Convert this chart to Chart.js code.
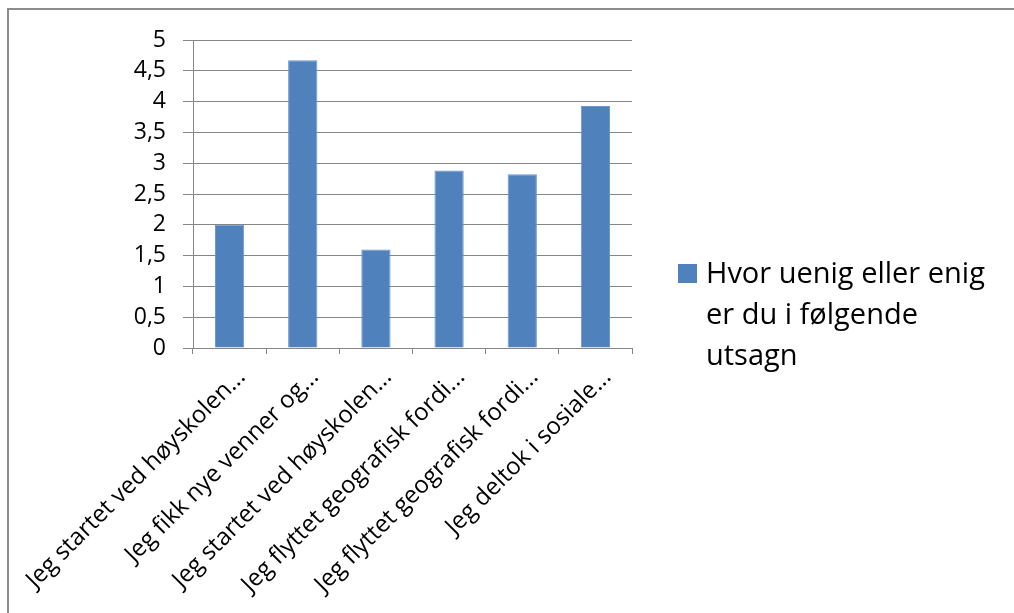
<!DOCTYPE html>
<html>
<head>
<meta charset="utf-8">
<script src="https://cdn.jsdelivr.net/npm/chart.js@4"></script>
<style>
  html, body { margin: 0; padding: 0; background: #fff; }
  #wrap { position: relative; width: 1014px; height: 613px; overflow: hidden; }
  #frame { position: absolute; left: 7px; top: 8px; width: 1100px; height: 700px; border: 2px solid #8c8c8c; box-sizing: border-box; }
  #myChart { position: absolute; left: 0; top: 0; }
  #legend { position: absolute; left: 678px; top: 251px; width: 334px; font-family: "Open Sans", sans-serif; font-size: 29px; line-height: 41px; color: #000; }
  #legend .box { position: absolute; left: 0; top: 13px; width: 19px; height: 19px; background: #4f81bd; }
  #legend .txt { margin-left: 28px; white-space: nowrap; }
</style>
</head>
<body>
<div id="wrap">
  <div id="frame"></div>
  <canvas id="myChart" width="1014" height="613"></canvas>
  <div id="legend"><span class="box"></span><div class="txt" id="legendText"></div></div>
</div>
<script>
var categories = [
    'Jeg startet ved høyskolen...',
    'Jeg fikk nye venner og...',
    'Jeg startet ved høyskolen...',
    'Jeg flyttet geografisk fordi...',
    'Jeg flyttet geografisk fordi...',
    'Jeg deltok i sosiale...'
];
var seriesName = 'Hvor uenig eller enig er du i følgende utsagn';
var values = [2, 4.67, 1.6, 2.88, 2.82, 3.93];
var yTicks = [0, 0.5, 1, 1.5, 2, 2.5, 3, 3.5, 4, 4.5, 5];

var gridColor = '#868686';
var fontFamily = '"Open Sans", sans-serif';

// legend wraps like the original, in three lines
document.getElementById('legendText').innerHTML = 'Hvor uenig eller enig<br>er du i følgende<br>utsagn';

var data = {
    labels: categories,
    datasets: [{
        label: seriesName,
        data: values,
        backgroundColor: '#4f81bd',
        borderColor: '#6a95c9',
        borderWidth: 1,
        barPercentage: 0.8,
        categoryPercentage: 0.5
    }]
};

const config = {
    type: 'bar',
    data,
    options: {
        responsive: false,
        animation: false,
        devicePixelRatio: 1,
        layout: {
            padding: { left: 0, right: 382, top: 40, bottom: 0 }
        },
        plugins: {
            legend: { display: false },
            tooltip: { enabled: false }
        },
        scales: {
            x: {
                afterFit: function(scale) {
                    scale.height = 265;
                    scale.paddingLeft = 0;
                    scale.paddingRight = 0;
                },
                grid: {
                    drawOnChartArea: false,
                    drawTicks: true,
                    tickLength: 6,
                    color: gridColor,
                    offset: true
                },
                border: { display: true, color: gridColor, width: 1 },
                ticks: {
                    color: '#000',
                    font: { family: fontFamily, size: 24 },
                    minRotation: 45,
                    maxRotation: 45,
                    autoSkip: false,
                    labelOffset: 12,
                    padding: 9
                }
            },
            y: {
                min: 0,
                max: 5,
                afterFit: function(scale) { scale.width = 193; },
                afterBuildTicks: function(scale) {
                    scale.ticks = yTicks.map(v => ({ value: v }));
                },
                grid: {
                    color: gridColor,
                    lineWidth: 1,
                    drawTicks: true,
                    tickLength: 10
                },
                border: { display: true, color: gridColor, width: 1 },
                ticks: {
                    color: '#000',
                    font: { family: fontFamily, size: 23 },
                    padding: 17,
                    callback: function(v) { return String(v).replace('.', ','); }
                }
            }
        }
    }
};

const myChart = new Chart(document.getElementById('myChart'), config);
</script>
</body>
</html>
